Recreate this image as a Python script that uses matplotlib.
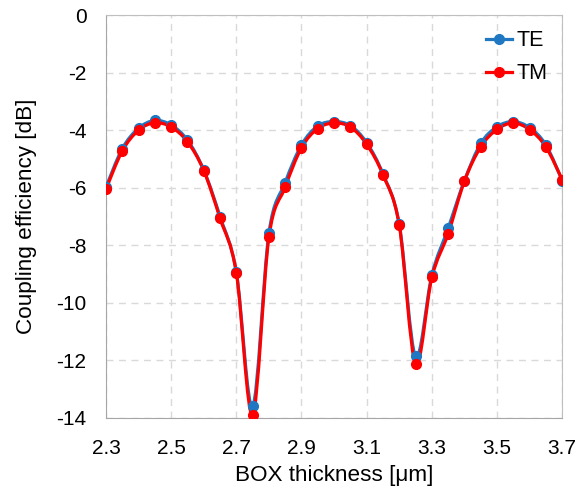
import numpy as np
import matplotlib
matplotlib.use("Agg")
import matplotlib.pyplot as plt
from matplotlib.path import Path
from matplotlib.patches import PathPatch
from matplotlib.lines import Line2D

plt.rcParams["font.family"] = ["Liberation Sans", "DejaVu Sans"]
plt.rcParams["axes.unicode_minus"] = False

# BOX thickness [um], 0.05 step
box = [2.30, 2.35, 2.40, 2.45, 2.50, 2.55, 2.60, 2.65, 2.70, 2.75,
       2.80, 2.85, 2.90, 2.95, 3.00, 3.05, 3.10, 3.15, 3.20, 3.25,
       3.30, 3.35, 3.40, 3.45, 3.50, 3.55, 3.60, 3.65, 3.70]
te = [-5.98, -4.64, -3.93, -3.66, -3.82, -4.34, -5.38, -7.00, -8.93, -13.60,
      -7.58, -5.82, -4.51, -3.85, -3.70, -3.84, -4.43, -5.52, -7.27, -11.86,
      -9.03, -7.41, -5.75, -4.46, -3.88, -3.70, -3.91, -4.51, -5.75]
tm = [-6.05, -4.72, -4.00, -3.74, -3.89, -4.40, -5.40, -7.06, -8.95, -13.90,
      -7.72, -5.98, -4.61, -3.94, -3.75, -3.89, -4.49, -5.55, -7.30, -12.12,
      -9.12, -7.60, -5.77, -4.58, -3.97, -3.75, -3.98, -4.58, -5.72]


def smooth_path(x, y):
    # Excel-like smoothed line: Catmull-Rom segments as cubic Bezier curves
    p = np.column_stack([x, y])
    ext = np.vstack([p[0], p, p[-1]])
    verts = [p[0]]
    codes = [Path.MOVETO]
    for i in range(len(p) - 1):
        p0, p1, p2, p3 = ext[i], ext[i + 1], ext[i + 2], ext[i + 3]
        verts += [p1 + (p2 - p0) / 6, p2 - (p3 - p1) / 6, p2]
        codes += [Path.CURVE4] * 3
    return Path(verts, codes)


fig = plt.figure(figsize=(5.79, 4.91), dpi=100)
ax = fig.add_axes([0.183, 0.149, 0.788, 0.820])

series = [("TE", te, "#1f78c1"), ("TM", tm, "#ff0000")]
handles = []
for name, vals, col in series:
    ax.add_patch(PathPatch(smooth_path(box, vals), fill=False, ec=col, lw=2.3, zorder=3))
    ax.plot(box, vals, "o", color=col, ms=7, zorder=4)
    handles.append(Line2D([], [], color=col, lw=2.3, marker="o", ms=7, label=name))

ax.set_xlim(2.3, 3.7)
ax.set_ylim(-14, 0)
ax.set_xticks(np.arange(2.3, 3.71, 0.2))
ax.set_xticklabels([f"{v:.1f}" for v in np.arange(2.3, 3.71, 0.2)])
ax.set_yticks(np.arange(-14, 0.1, 2))
ax.tick_params(length=0, labelsize=15)
ax.tick_params(axis="x", pad=15)
ax.tick_params(axis="y", pad=14)
ax.grid(True, ls=(0, (5, 4)), color="#d9d9d9", lw=1)
ax.set_axisbelow(True)
for s in ax.spines.values():
    s.set_color("#bfbfbf")
ax.spines["left"].set_color("#a6a6a6")
ax.spines["bottom"].set_color("#a6a6a6")

ax.set_xlabel("BOX thickness [\u03bcm]", fontsize=16.2, labelpad=5)
ax.set_ylabel("Coupling efficiency [dB]", fontsize=16.2, labelpad=14)

ax.legend(handles=handles, loc="upper right", bbox_to_anchor=(1.0, 1.0),
          frameon=False, fontsize=15.5, handlelength=1.2, handletextpad=0.2,
          labelspacing=0.55, borderaxespad=0.3)

fig.savefig("out.png", dpi=100)
